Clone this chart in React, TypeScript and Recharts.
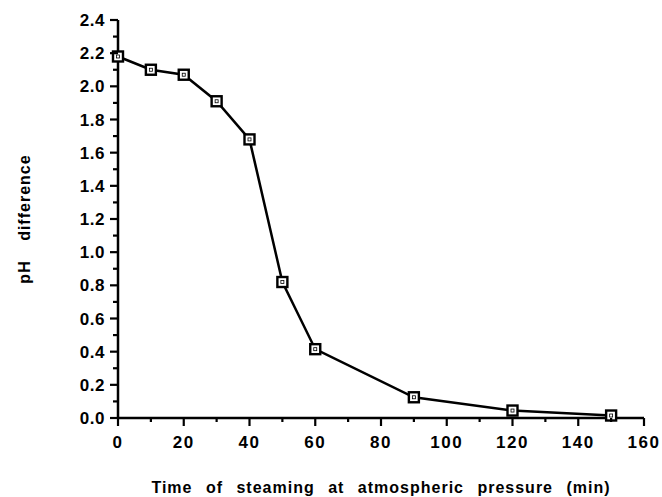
import React from "react";
import { LineChart, Line, XAxis, YAxis } from "recharts";

const times = [0, 10, 20, 30, 40, 50, 60, 90, 120, 150];
const phDiff = [2.18, 2.1, 2.07, 1.91, 1.68, 0.82, 0.415, 0.125, 0.045, 0.015];
const xTicks = [0, 10, 20, 30, 40, 50, 60, 70, 80, 90, 100, 110, 120, 130, 140, 150, 160];
const yTicks = [0, 0.1, 0.2, 0.3, 0.4, 0.5, 0.6, 0.7, 0.8, 0.9, 1.0, 1.1, 1.2, 1.3, 1.4, 1.5, 1.6, 1.7, 1.8, 1.9, 2.0, 2.1, 2.2, 2.3, 2.4];

const data = times.map((t, i) => ({ t, v: phDiff[i] }));

const FONT = "'Liberation Sans', Arial, sans-serif";

const XTick = (props: any) => {
  const { x, y, payload } = props;
  const v = Math.round(payload.value);
  const major = v % 20 === 0;
  return (
    <g>
      <line x1={x} x2={x} y1={y} y2={y + (major ? 8 : 4)} stroke="#000" strokeWidth={2.2} />
      {major && (
        <text x={x} y={y + 30} textAnchor="middle" fontFamily={FONT} fontWeight="bold" fontSize={17} letterSpacing={1.5} fill="#000">
          {v}
        </text>
      )}
    </g>
  );
};

const YTick = (props: any) => {
  const { x, y, payload } = props;
  const k = Math.round(payload.value * 10);
  const major = k % 2 === 0;
  return (
    <g>
      <line x1={x - (major ? 8 : 5)} x2={x} y1={y} y2={y} stroke="#000" strokeWidth={2.2} />
      {major && (
        <text x={x - 13} y={y + 6} textAnchor="end" fontFamily={FONT} fontWeight="bold" fontSize={17} letterSpacing={0.5} fill="#000">
          {(k / 10).toFixed(1)}
        </text>
      )}
    </g>
  );
};

const Marker = (props: any) => {
  const { cx, cy } = props;
  if (cx == null || cy == null) return null;
  return (
    <g>
      <rect x={cx - 5} y={cy - 5} width={10} height={10} fill="#fff" stroke="#000" strokeWidth={2.4} />
      <rect x={cx - 1.5} y={cy - 1.5} width={3} height={3} fill="#fff" stroke="#000" strokeWidth={0.8} />
    </g>
  );
};

export default function App() {
  return (
    <div style={{ position: "absolute", left: 0, top: 0, width: 662, height: 497, background: "#fff" }}>
      <LineChart width={662} height={497} data={data} margin={{ top: 20, right: 18, bottom: 0, left: 0 }}>
        <XAxis
          dataKey="t"
          type="number"
          domain={[0, 160]}
          ticks={xTicks}
          interval={0}
          height={79}
          tickSize={0}
          tickMargin={0}
          tickLine={false}
          axisLine={{ stroke: "#000", strokeWidth: 2.5 }}
          tick={<XTick />}
          label={{
            value: "Time of steaming at atmospheric pressure (min)",
            position: "insideBottom",
            offset: 4,
            fill: "#000",
            style: { fontFamily: FONT, fontWeight: "bold", fontSize: 16, fill: "#000", letterSpacing: 1, wordSpacing: 8 },
          }}
        />
        <YAxis
          type="number"
          domain={[0, 2.4]}
          ticks={yTicks}
          interval={0}
          width={118}
          tickSize={0}
          tickMargin={0}
          tickLine={false}
          axisLine={{ stroke: "#000", strokeWidth: 2.5 }}
          tick={<YTick />}
          label={{
            value: "pH difference",
            angle: -90,
            position: "insideLeft",
            offset: 24,
            fill: "#000",
            style: { fontFamily: FONT, fontWeight: "bold", fontSize: 16, fill: "#000", letterSpacing: 1, wordSpacing: 14, textAnchor: "middle" },
          }}
        />
        <Line
          dataKey="v"
          stroke="#000"
          strokeWidth={2.5}
          isAnimationActive={false}
          dot={<Marker />}
          activeDot={false}
        />
      </LineChart>
    </div>
  );
}
